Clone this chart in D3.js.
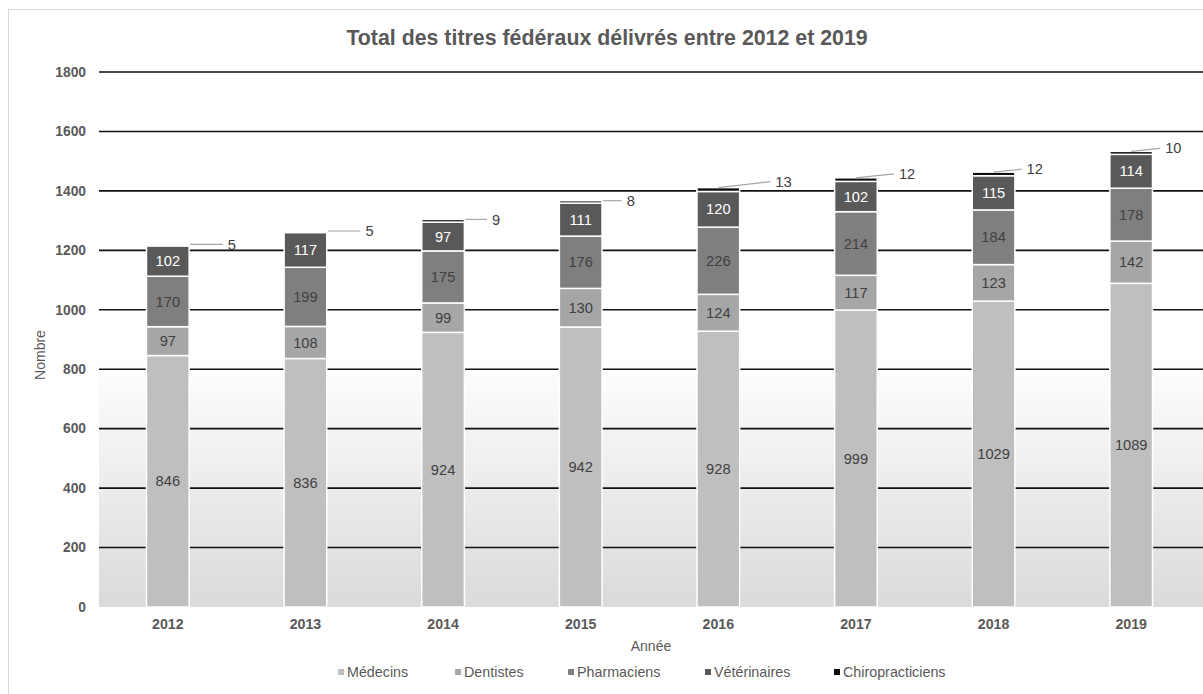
<!DOCTYPE html>
<html>
<head>
<meta charset="utf-8">
<script src="https://cdn.jsdelivr.net/npm/d3@7.9.0/dist/d3.min.js"></script>
<style>
  html, body { margin: 0; padding: 0; background: #fff; }
  svg { display: block; font-family: "Liberation Sans", Arial, sans-serif; }
</style>
</head>
<body>
<svg id="chart" width="1203" height="694"></svg>
<script>
// data
const years = ["2012", "2013", "2014", "2015", "2016", "2017", "2018", "2019"];
const series = ["Médecins", "Dentistes", "Pharmaciens", "Vétérinaires", "Chiropracticiens"];
const medecins = [846, 836, 924, 942, 928, 999, 1029, 1089];
const dentistes = [97, 108, 99, 130, 124, 117, 123, 142];
const pharmaciens = [170, 199, 175, 176, 226, 214, 184, 178];
const veterinaires = [102, 117, 97, 111, 120, 102, 115, 114];
const chiros = [5, 5, 9, 8, 13, 12, 12, 10];
const yTicks = [0, 200, 400, 600, 800, 1000, 1200, 1400, 1600, 1800];

// styling / layout
const colors = ["#bfbfbf", "#a6a6a6", "#7f7f7f", "#595959", "#0d0d0d"];
const labelColors = ["#404040", "#404040", "#404040", "#ffffff", "#404040"];
const legendX = [338, 455, 568, 705, 834];
// where Excel dropped the small outside labels (offset from bar centre/top)
const chiroNudgeX = [60, 60, 49, 46, 57, 43, 33, 34];
const chiroNudgeY = [0, 0, 0, 0, -6, -4, -3, -3];

const W = 1203, H = 694;
const plot = { left: 99, right: 1200, top: 72, bottom: 607 };

const svg = d3.select("#chart");

// table for the stack
const rows = years.map((y, i) => ({
  year: y,
  "Médecins": medecins[i],
  "Dentistes": dentistes[i],
  "Pharmaciens": pharmaciens[i],
  "Vétérinaires": veterinaires[i],
  "Chiropracticiens": chiros[i]
}));
const stacked = d3.stack().keys(series)(rows);

const x = d3.scaleBand().domain(years).range([plot.left, plot.right]).paddingInner(0.69).paddingOuter(0.345);
const y = d3.scaleLinear().domain([0, 1800]).range([plot.bottom, plot.top]);

// outer chart frame (cut off on right/bottom)
svg.append("rect")
  .attr("x", 8.5).attr("y", 9.5)
  .attr("width", W + 10).attr("height", H + 10)
  .attr("fill", "none").attr("stroke", "#d9d9d9").attr("stroke-width", 1);

// plot background gradient
const defs = svg.append("defs");
const grad = defs.append("linearGradient").attr("id", "bg")
  .attr("x1", 0).attr("y1", 0).attr("x2", 0).attr("y2", 1);
grad.append("stop").attr("offset", "0.53").attr("stop-color", "#ffffff");
grad.append("stop").attr("offset", "1").attr("stop-color", "#dadada");

svg.append("rect")
  .attr("x", plot.left).attr("y", plot.top)
  .attr("width", W - plot.left).attr("height", plot.bottom - plot.top)
  .attr("fill", "url(#bg)");

// gridlines
svg.append("g").selectAll("line")
  .data(yTicks.filter(d => d > 0))
  .join("line")
  .attr("x1", plot.left).attr("x2", W)
  .attr("y1", d => y(d)).attr("y2", d => y(d))
  .attr("stroke", "#111").attr("stroke-width", 1.6);

// y tick labels
svg.append("g").selectAll("text")
  .data(yTicks)
  .join("text")
  .attr("x", 86).attr("y", d => y(d))
  .attr("dy", "0.35em")
  .attr("text-anchor", "end")
  .attr("font-size", "13.8px").attr("font-weight", "bold")
  .attr("fill", "#595959")
  .text(d => d);

// x tick labels
svg.append("g").selectAll("text")
  .data(years)
  .join("text")
  .attr("x", d => x(d) + x.bandwidth() / 2).attr("y", 629)
  .attr("text-anchor", "middle")
  .attr("font-size", "14.2px").attr("font-weight", "bold")
  .attr("fill", "#595959")
  .text(d => d);

// bars
const layers = svg.append("g").selectAll("g")
  .data(stacked)
  .join("g")
  .attr("fill", (d, i) => colors[i]);

layers.selectAll("rect")
  .data(d => d)
  .join("rect")
  .attr("x", d => x(d.data.year))
  .attr("width", x.bandwidth())
  .attr("y", d => y(d[1]))
  .attr("height", d => y(d[0]) - y(d[1]))
  .attr("stroke", "#fff").attr("stroke-width", 1.5);

// segment labels (inside) for the first four series
stacked.slice(0, 4).forEach((layer, li) => {
  svg.append("g").selectAll("text")
    .data(layer)
    .join("text")
    .attr("x", d => x(d.data.year) + x.bandwidth() / 2)
    .attr("y", d => (y(d[0]) + y(d[1])) / 2)
    .attr("dy", "0.35em")
    .attr("text-anchor", "middle")
    .attr("font-size", "14.67px")
    .attr("fill", labelColors[li])
    .text(d => d.data[layer.key]);
});

// chiropracticiens labels outside with leader lines
const chiroLayer = stacked[4];
const lab = svg.append("g");
chiroLayer.forEach((d, i) => {
  const cx = x(d.data.year) + x.bandwidth() / 2;
  const top = y(d[1]);
  const lx = cx + chiroNudgeX[i], ly = top + chiroNudgeY[i];
  const sx = chiroNudgeY[i] < -1 ? cx : cx + x.bandwidth() / 2 + 1;
  lab.append("line")
    .attr("x1", sx).attr("y1", top)
    .attr("x2", lx - 5).attr("y2", ly)
    .attr("stroke", "#a6a6a6").attr("stroke-width", 1.2);
  lab.append("text")
    .attr("x", lx).attr("y", ly)
    .attr("dy", "0.35em")
    .attr("font-size", "14.67px")
    .attr("fill", "#404040")
    .text(d.data["Chiropracticiens"]);
});

// title
svg.append("text")
  .attr("x", 607).attr("y", 45)
  .attr("text-anchor", "middle")
  .attr("font-size", "21.33px").attr("font-weight", "bold")
  .attr("fill", "#595959")
  .text("Total des titres fédéraux délivrés entre 2012 et 2019");

// axis titles
svg.append("text")
  .attr("x", 651).attr("y", 651)
  .attr("text-anchor", "middle")
  .attr("font-size", "14px")
  .attr("fill", "#595959")
  .text("Année");

svg.append("text")
  .attr("transform", "translate(45,355) rotate(-90)")
  .attr("text-anchor", "middle")
  .attr("font-size", "14px")
  .attr("fill", "#595959")
  .text("Nombre");

// legend
const leg = svg.append("g").selectAll("g")
  .data(series)
  .join("g")
  .attr("transform", (d, i) => `translate(${legendX[i]},672)`);
leg.append("rect")
  .attr("x", 0).attr("y", -3)
  .attr("width", 6).attr("height", 6)
  .attr("fill", (d, i) => colors[i]);
leg.append("text")
  .attr("x", 9).attr("y", 0)
  .attr("dy", "0.35em")
  .attr("font-size", "14.3px")
  .attr("fill", "#595959")
  .text(d => d);
</script>
</body>
</html>
